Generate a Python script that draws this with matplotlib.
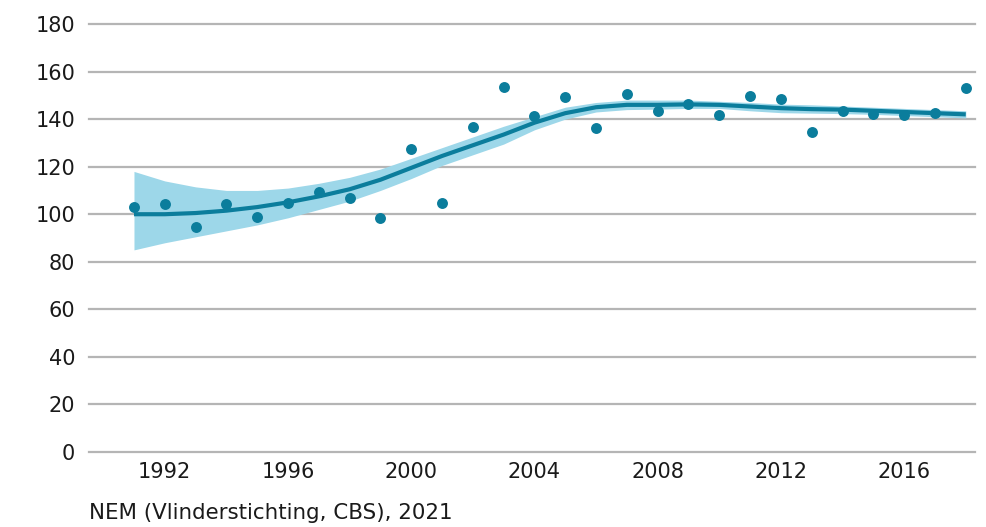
import matplotlib
matplotlib.use('Agg')
import matplotlib.pyplot as plt
import numpy as np

# Yearly index values, smoothed trend and its confidence band
YEARS = np.arange(1991, 2019)
INDEX = [103.0, 104.3, 94.6, 104.3, 98.8, 104.7, 109.3, 106.8, 98.4, 127.4,
         104.7, 136.7, 153.5, 141.3, 149.3, 136.2, 150.5, 143.4, 146.3, 141.7,
         149.7, 148.4, 134.6, 143.4, 142.1, 141.7, 142.6, 153.1]
TREND = [100.0, 100.0, 100.5, 101.5, 103.0, 105.0, 107.5, 110.5, 114.5, 119.5,
         124.5, 129.0, 133.5, 138.5, 142.5, 145.0, 146.0, 146.0, 146.2, 146.0,
         145.3, 144.6, 144.2, 144.0, 143.5, 143.0, 142.5, 142.0]
LOWER = [85.0, 88.0, 90.5, 93.0, 95.5, 98.5, 102.0, 105.5, 110.0, 115.0,
         120.5, 125.0, 129.5, 135.5, 140.0, 143.0, 144.0, 144.2, 144.5, 144.5,
         143.5, 142.7, 142.5, 142.3, 142.0, 141.5, 141.0, 140.5]
UPPER = [118.0, 114.0, 111.5, 110.0, 110.0, 111.0, 113.0, 115.5, 119.0, 123.5,
         128.0, 132.5, 137.0, 141.0, 145.0, 147.0, 148.0, 148.0, 148.0, 147.5,
         147.0, 146.3, 146.0, 145.5, 145.0, 144.5, 144.0, 143.5]
X_TICKS = [1992, 1996, 2000, 2004, 2008, 2012, 2016]
Y_TICKS = np.arange(0, 181, 20)
SOURCE = 'NEM (Vlinderstichting, CBS), 2021'

DARK = '#0b7d9c'
LIGHT = '#9dd7e9'
GRID = '#b5b5b5'

plt.rcParams['font.family'] = ['DejaVu Sans']

fig = plt.figure(figsize=(9.86, 5.27), dpi=100)
ax = fig.add_axes([89 / 986, 1 - 452 / 527, 886 / 986, 428 / 527])

# Band, trend line and the yearly observations
ax.fill_between(YEARS, LOWER, UPPER, color=LIGHT, lw=0, zorder=2)
ax.plot(YEARS, TREND, color=DARK, lw=3.0, solid_capstyle='butt', zorder=3)
ax.scatter(YEARS, INDEX, s=62, color=DARK, lw=0, zorder=4, clip_on=False)

ax.set_xlim(1989.54, 2018.3)
ax.set_ylim(0, 180)
ax.set_xticks(X_TICKS)
ax.set_yticks(Y_TICKS)

for y in Y_TICKS:
    ax.axhline(y, color=GRID, lw=1.6, zorder=1, clip_on=False)

for side in ax.spines.values():
    side.set_visible(False)

ax.tick_params(axis='both', length=0, labelsize=15, colors='#1a1a1a')
ax.tick_params(axis='y', pad=10)
ax.tick_params(axis='x', pad=7)

fig.text(89 / 986, 1 - 513 / 527, SOURCE, fontsize=15.4, color='#1a1a1a',
         va='center', ha='left')

fig.savefig('out.png', dpi=100)
